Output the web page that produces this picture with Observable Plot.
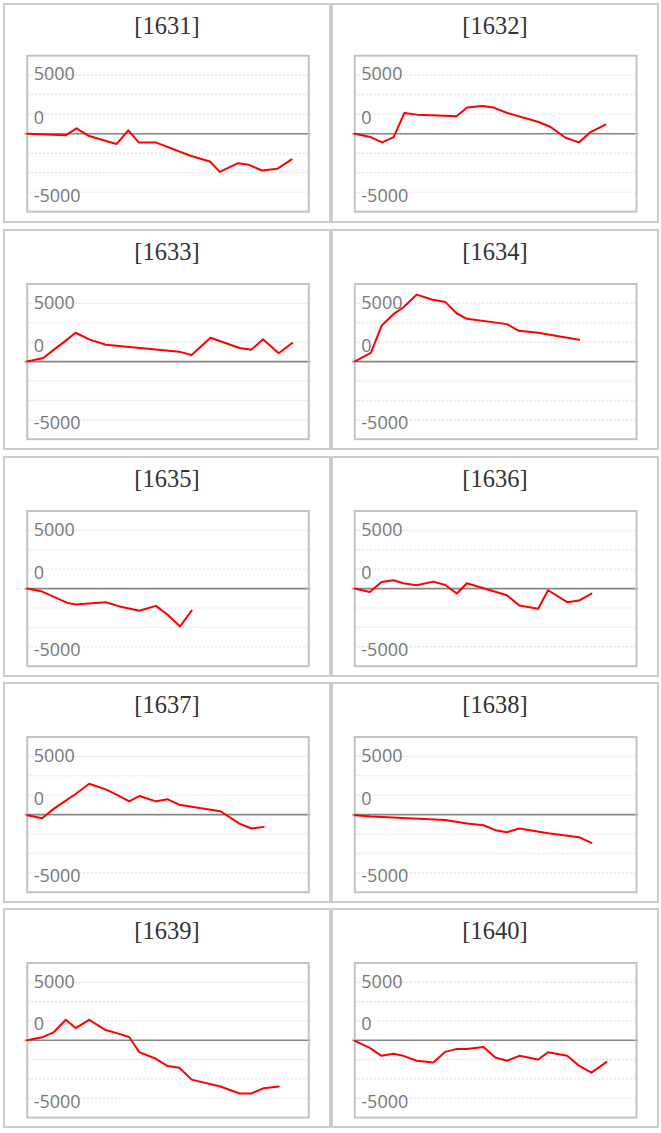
<!DOCTYPE html>
<html>
<head>
<meta charset="utf-8">
<script src="https://cdn.jsdelivr.net/npm/d3@7"></script>
<script src="https://cdn.jsdelivr.net/npm/@observablehq/plot@0.6"></script>
<style>
  html, body { margin: 0; padding: 0; background: #fff; }
  #grid { position: relative; width: 661px; height: 1133px; }
  .panel {
    position: absolute;
    box-sizing: border-box;
    width: 328px;
    border: 2px solid #cccccc;
    background: #fff;
  }
  .title {
    height: 40px;
    line-height: 41px;
    text-align: center;
    font-family: "Liberation Serif", "Times New Roman", serif;
    font-size: 24.5px;
    color: #333;
    overflow: visible;
  }
  .panel svg { display: block; overflow: visible; }
</style>
</head>
<body>
<div id="grid"></div>
<script>
// ---- data ----
const panelIds = ["1631", "1632", "1633", "1634", "1635", "1636", "1637", "1638", "1639", "1640"];

const x1631 = [0, 13.6, 17.5, 21.7, 31.7, 35.9, 39.6, 45.6, 58.0, 64.9, 68.4, 74.9, 78.7, 83.4, 88.8, 93.9];
const v1631 = [0, -143, 458, -172, -887, 286, -744, -744, -1888, -2374, -3261, -2517, -2660, -3146, -3003, -2202];

const x1632 = [0, 5.6, 9.7, 13.8, 17.6, 22.1, 36.1, 39.9, 45.2, 49.3, 54.1, 65.3, 69.5, 74.8, 79.5, 83.7, 89.0];
const v1632 = [0, -286, -744, -286, 1773, 1630, 1487, 2231, 2374, 2231, 1773, 1001, 572, -343, -744, 143, 772];

const x1633 = [0, 5.7, 9.5, 13.7, 17.2, 22.0, 27.9, 54.0, 58.4, 65.1, 75.4, 79.6, 83.7, 89.3, 94.1];
const v1633 = [0, 313, 1026, 1800, 2480, 1910, 1450, 855, 570, 2050, 1170, 1025, 1910, 712, 1600];

const x1634 = [0, 5.7, 9.5, 13.7, 17.2, 22.0, 27.3, 32.1, 36.2, 39.8, 54.0, 58.2, 65.1, 79.6];
const v1634 = [28, 741, 3078, 4075, 4645, 5757, 5330, 5130, 4132, 3676, 3220, 2650, 2480, 1880];

const x1635 = [0, 5.3, 14.3, 17.2, 27.9, 33.3, 39.8, 45.7, 49.9, 54.3, 58.4];
const v1635 = [0, -256, -1225, -1368, -1168, -1568, -1910, -1482, -2252, -3250, -1880];

const x1636 = [0, 5.3, 9.5, 13.7, 17.2, 22.0, 27.9, 32.1, 36.2, 39.8, 54.0, 58.4, 65.1, 68.6, 75.4, 79.6, 84.0];
const v1636 = [0, -285, 570, 712, 456, 285, 600, 313, -427, 456, -570, -1453, -1738, -142, -1168, -1026, -427];

const x1637 = [0, 5.3, 9.5, 13.7, 17.2, 22.0, 27.9, 32.1, 36.2, 39.8, 45.7, 49.9, 54.0, 58.4, 68.6, 75.4, 79.6, 84.0];
const v1637 = [-57, -313, 513, 1197, 1767, 2650, 2166, 1681, 1140, 1596, 1140, 1311, 855, 684, 285, -770, -1197, -1054];

const x1638 = [0, 5.9, 32.1, 39.8, 45.7, 49.9, 54.0, 58.4, 68.6, 79.6, 84.0];
const v1638 = [-57, -171, -456, -770, -912, -1339, -1510, -1197, -1596, -1938, -2422];

const x1639 = [0, 5.3, 9.5, 13.7, 17.2, 22.0, 27.9, 32.1, 36.2, 39.8, 45.7, 49.9, 54.0, 58.4, 68.6, 75.4, 79.6, 84.0, 89.3];
const v1639 = [0, 256, 712, 1767, 1054, 1767, 883, 598, 285, -1026, -1596, -2223, -2365, -3391, -3990, -4588, -4588, -4132, -3990];

const x1640 = [0, 5.3, 9.5, 13.7, 17.2, 22.0, 27.9, 32.1, 36.2, 39.8, 45.7, 49.9, 54.0, 58.4, 65.1, 68.6, 75.4, 79.6, 84.0, 89.3];
const v1640 = [-57, -655, -1339, -1168, -1339, -1767, -1910, -997, -741, -741, -570, -1482, -1767, -1339, -1653, -1026, -1339, -2194, -2793, -1881];

const seriesX = [x1631, x1632, x1633, x1634, x1635, x1636, x1637, x1638, x1639, x1640];
const seriesV = [v1631, v1632, v1633, v1634, v1635, v1636, v1637, v1638, v1639, v1640];

const yDomain = [-6667, 6667];
const xDomain = [0, 100];
const gridValues = [-5000, -3333, -1667, 1667, 3333, 5000];
const labelValues = [5160, 1455, -5200];
const labelTexts = ["5000", "0", "-5000"];

// ---- layout ----
const colLeft = [3, 331];
const rowTop = [3.3, 229.3, 455.6, 681.9, 908.2];
const rowHeight = [219.4, 221, 221, 221, 220.2];
const rowMarginTop = [10.2, 12.5, 12.5, 12.5, 12.5];
const rowMarginBottom = [9.2, 9.3, 9.3, 9.3, 9.1];

// ---- drawing ----
const container = document.getElementById("grid");
const labelRows = labelValues.map((v, i) => ({v, t: labelTexts[i]}));

panelIds.forEach((id, i) => {
  const col = i % 2, row = Math.floor(i / 2);
  const panel = document.createElement("div");
  panel.className = "panel";
  panel.style.left = colLeft[col] + "px";
  panel.style.top = rowTop[row] + "px";
  panel.style.height = rowHeight[row] + "px";
  const title = document.createElement("div");
  title.className = "title";
  title.textContent = "[" + id + "]";
  panel.appendChild(title);

  const data = seriesX[i].map((x, j) => ({x, v: seriesV[i][j]}));
  const marginLeft = col === 0 ? 21.7 : 21.3;
  const marginRight = col === 0 ? 20.7 : 21;
  const svgHeight = rowHeight[row] - 4 - 40;

  const chart = Plot.plot({
    width: 324,
    height: svgHeight,
    marginTop: rowMarginTop[row],
    marginBottom: rowMarginBottom[row],
    marginLeft,
    marginRight,
    x: {domain: xDomain, axis: null},
    y: {domain: yDomain, axis: null},
    style: {background: "transparent", overflow: "visible"},
    marks: [
      Plot.ruleY(gridValues, {stroke: "#d9d9d9", strokeWidth: 1, strokeDasharray: "2,2"}),
      Plot.ruleY([0], {stroke: "#858585", strokeWidth: 1.6, insetLeft: -2, insetRight: -2}),
      Plot.frame({stroke: "#c3c3c3", strokeWidth: 2}),
      Plot.text(labelRows, {
        y: "v", text: "t", frameAnchor: "left", textAnchor: "start", dx: 6.5, dy: 1.3,
        fill: "#777777", fontSize: 18, fontFamily: "'Open Sans', sans-serif", lineAnchor: "middle"
      }),
      Plot.line(data, {x: "x", y: "v", stroke: "#ff0000", strokeWidth: 2})
    ]
  });
  panel.appendChild(chart);
  container.appendChild(panel);
});
</script>
</body>
</html>
